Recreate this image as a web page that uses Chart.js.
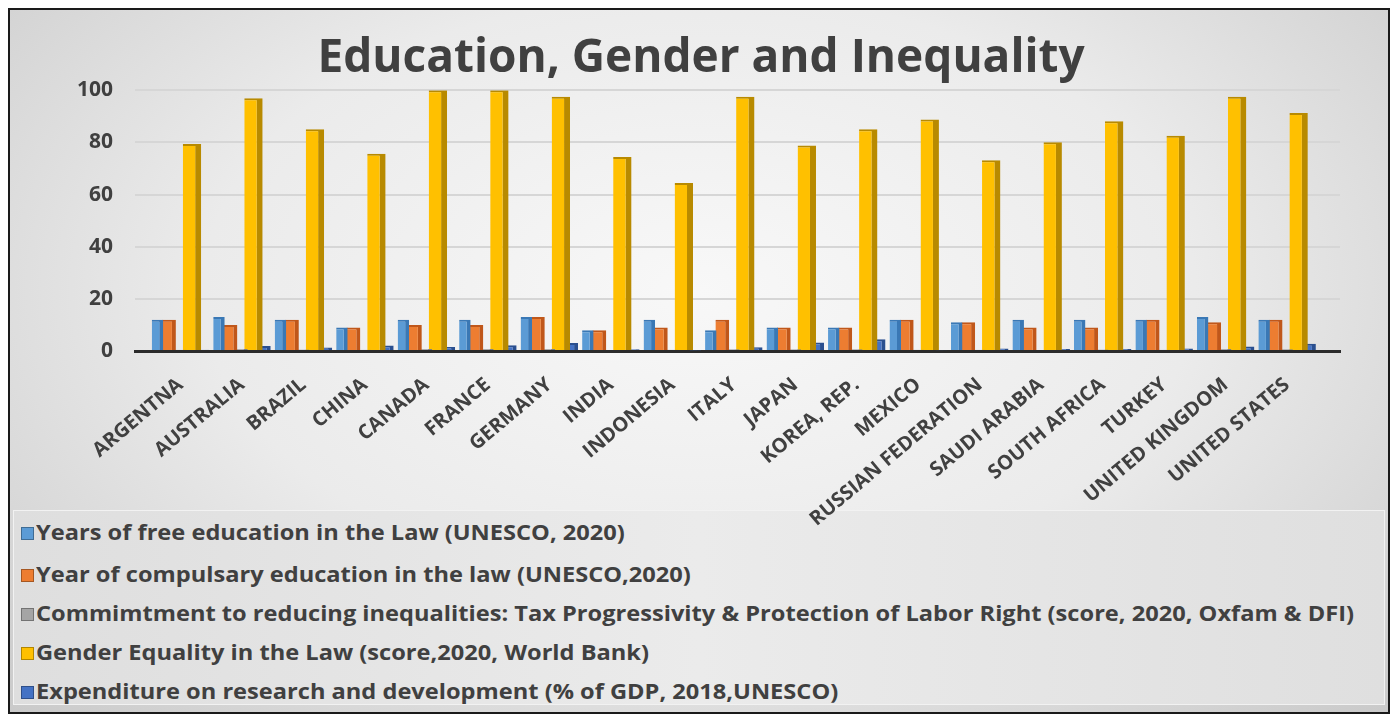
<!DOCTYPE html>
<html>
<head>
<meta charset="utf-8">
<script src="https://cdn.jsdelivr.net/npm/chart.js@4.4.1/dist/chart.umd.min.js"></script>
<style>
  html, body { margin: 0; padding: 0; background: #ffffff; }
  #wrap { position: relative; width: 1390px; height: 717px; overflow: hidden; background: #ffffff; }
  #frame { position: absolute; left: 8px; top: 8px; width: 1378px; height: 702px; border: 2px solid #1a1a1a;
    background: radial-gradient(ellipse 72% 85% at 50% 40%, #f8f8f8 0%, #ebebeb 50%, #c9c9c9 100%); }
  #legend { position: absolute; left: 13px; top: 510px; width: 1372px; height: 195px;
    background: linear-gradient(90deg, #dedede 0%, #ebebeb 50%, #dfdfdf 100%);
    border: 1px solid #f2f2f2; box-sizing: border-box; font-family: "Open Sans", Lato, sans-serif;
    font-weight: bold; font-size: 21px; color: #404040; }
  .item { position: absolute; left: 7px; height: 26px; line-height: 26px; white-space: nowrap; }
  .sw { display: inline-block; width: 11px; height: 11px; margin-right: 2px; vertical-align: 0px; border: 1px solid rgba(0,0,0,0.3); }
  .tx { display: inline-block; transform: scaleX(1.125); transform-origin: left center; }
  #c { position: absolute; left: 0; top: 0; }
</style>
</head>
<body>
<div id="wrap">
  <div id="frame"></div>
  <div id="legend"></div>
  <canvas id="c" width="1390" height="717"></canvas>
</div>
<script>
const categories = ['ARGENTNA','AUSTRALIA','BRAZIL','CHINA','CANADA','FRANCE','GERMANY','INDIA','INDONESIA','ITALY','JAPAN','KOREA, REP.','MEXICO','RUSSIAN FEDERATION','SAUDI ARABIA','SOUTH AFRICA','TURKEY','UNITED KINGDOM','UNITED STATES'];
const freeEducation = [12,13,12,9,12,12,13,8,12,8,9,9,12,11,12,12,12,13,12];
const compulsoryEducation = [12,10,12,9,10,10,13,8,9,12,9,9,12,11,9,9,12,11,12];
const inequalityCommitment = [0.5,0.75,0.55,0.45,0.75,0.8,0.8,0.35,0.45,0.65,0.7,0.65,0.45,0.5,0.4,0.6,0.45,0.75,0.65];
const genderEquality = [79.4,96.9,85,75.6,100,100,97.5,74.4,64.4,97.5,78.8,85,88.8,73.1,80,88.1,82.5,97.5,91.3];
const researchSpending = [0.5,1.9,1.3,2.1,1.5,2.2,3.1,0.7,0.2,1.4,3.3,4.5,0.3,1.0,0.8,0.8,1.0,1.7,2.8];
const yTicks = [0,20,40,60,80,100];
const seriesNames = [
  'Years of free education in the Law (UNESCO, 2020)',
  'Year of compulsary education in the law (UNESCO,2020)',
  'Commimtment to reducing inequalities: Tax Progressivity & Protection of Labor Right (score, 2020, Oxfam & DFI)',
  'Gender Equality in the Law (score,2020, World Bank)',
  'Expenditure on research and development (% of GDP, 2018,UNESCO)'
];
const fills = ['#5B9BD5','#ED7D31','#A5A5A5','#FFC000','#4472C4'];
const sides = ['#3A78B5','#C0571A','#7F7F7F','#B88A00','#2A4F8F'];
const barShares = [1.0, 1.2, 1.0, 1.6, 1.0];
const seriesData = [freeEducation, compulsoryEducation, inequalityCommitment, genderEquality, researchSpending];

const legendEl = document.getElementById('legend');
const rowTops = [8, 50, 89, 128, 167];
seriesNames.forEach((n, i) => {
  const d = document.createElement('div');
  d.className = 'item';
  d.style.top = rowTops[i] + 'px';
  d.innerHTML = '<span class="sw" style="background:' + fills[i] + '"></span>';
  const t = document.createElement('span');
  t.className = 'tx';
  t.textContent = n;
  d.appendChild(t);
  legendEl.appendChild(d);
});

const datasets = seriesData.map((arr, i) => ({
  label: seriesNames[i],
  data: arr.map((v, k) => ({ x: k, y: v })),
  barPercentage: barShares[i],
  backgroundColor: fills[i],
  borderColor: sides[i],
  borderWidth: { top: 2, right: i === 3 ? 6 : 4, left: 0, bottom: 0 },
  borderSkipped: false
}));

new Chart(document.getElementById('c'), {
  type: 'bar',
  data: { datasets },
  options: {
    responsive: false,
    animation: false,
    layout: { padding: { left: 62, right: 50, top: 0, bottom: 0 } },
    datasets: { bar: { categoryPercentage: 0.935 } },
    plugins: {
      legend: { display: false },
      tooltip: { enabled: false },
      title: {
        display: true,
        text: 'Education, Gender and Inequality',
        color: '#404040',
        font: { family: 'Open Sans', size: 46, weight: 'bold' },
        padding: { top: 31, bottom: 4 }
      }
    },
    scales: {
      x: {
        type: 'linear',
        offset: false,
        min: -0.74,
        max: 18.86,
        afterBuildTicks(s) { s.ticks = categories.map((c, k) => ({ value: k })); },
        grid: { display: false, drawTicks: false, offset: false },
        border: { display: true, color: '#2b2b2b', width: 3 },
        ticks: {
          color: '#404040',
          font: { family: 'Open Sans', size: 20, weight: 'bold' },
          minRotation: 40, maxRotation: 40,
          autoSkip: false, padding: 22,
          callback: (v) => categories[v]
        },
        afterFit(s) { s.height = 717 - 351; }
      },
      y: {
        min: 0, max: 100,
        afterBuildTicks(s) { s.ticks = yTicks.map(v => ({ value: v })); },
        grid: { color: '#d6d6d6', lineWidth: 2, drawTicks: false },
        border: { display: false },
        ticks: {
          color: '#404040',
          font: { family: 'Open Sans', size: 21, weight: 'bold' },
          padding: 22
        },
        afterFit(s) { s.width = 73; }
      }
    }
  }
});
</script>
</body>
</html>
